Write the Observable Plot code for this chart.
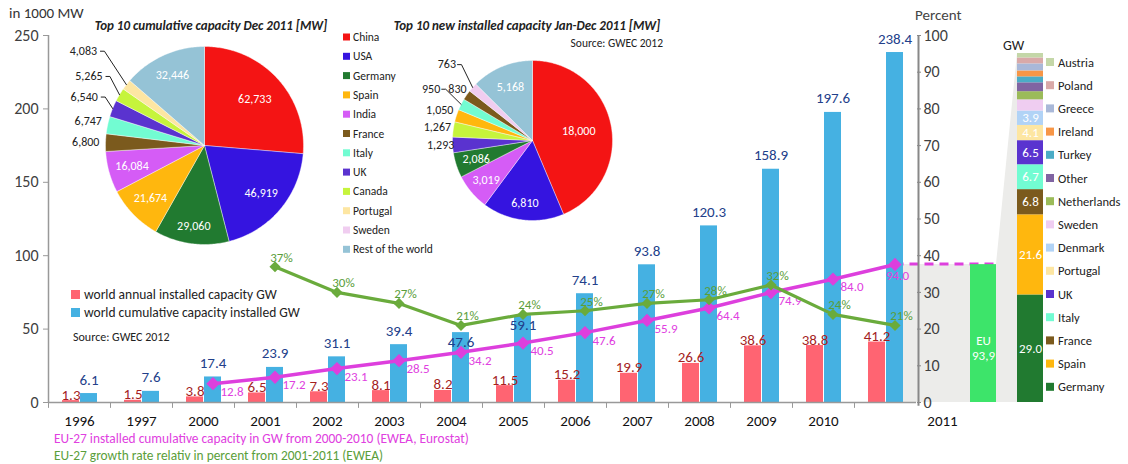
<!DOCTYPE html>
<html><head><meta charset="utf-8">
<script src="https://cdn.jsdelivr.net/npm/d3@7"></script>
<script src="https://cdn.jsdelivr.net/npm/@observablehq/plot@0.6"></script>
<style>
html,body{margin:0;padding:0;background:#fff;}
#chart{position:relative;width:1128px;height:464px;overflow:hidden;}
#chart svg{position:absolute;left:0;top:0;overflow:visible;background:transparent;}
</style></head><body><div id="chart"></div>
<script>
// ---------- DATA ----------
const years = ["1996","1997","2000","2001","2002","2003","2004","2005","2006","2007","2008","2009","2010","2011"];
const annualGW = [1.3,1.5,3.8,6.5,7.3,8.1,8.2,11.5,15.2,19.9,26.6,38.6,38.8,41.2];
const cumulativeGW = [6.1,7.6,17.4,23.9,31.1,39.4,47.6,59.1,74.1,93.8,120.3,158.9,197.6,238.4];
const euYears = ["2000","2001","2002","2003","2004","2005","2006","2007","2008","2009","2010","2011"];
const euCumGW = [12.8,17.2,23.1,28.5,34.2,40.5,47.6,55.9,64.4,74.9,84.0,94.0];
const growthYears = ["2001","2002","2003","2004","2005","2006","2007","2008","2009","2010","2011"];
const growthPct = [37,30,27,21,24,25,27,28,32,24,21];
const euTotalLabel = "EU\n93,9";
const euTotalGW = 93.9;
const euCountries = ["Germany","Spain","France","Italy","UK","Portugal","Denmark","Sweden","Netherlands","Other","Turkey","Ireland","Greece","Poland","Austria"];
const euCountryGW = [29.0,21.6,6.8,6.7,6.5,4.1,3.9,3.0,2.2,2.4,1.6,1.6,1.9,1.6,1.2];
const euCountryColors = ["#217a30","#ffb70e","#7b5a1d","#72fcd2","#5a33cf","#fde6a2","#b1d3f6","#efcdf1","#9bbb59","#8064a2","#4bacc6","#f79646","#a9b8d8","#d9a9a8","#c4d7a8"];
const pieNames = ["China","USA","Germany","Spain","India","France","Italy","UK","Canada","Portugal","Sweden","Rest of the world"];
const pieColors = ["#f41414","#3514e0","#217a30","#ffb70e","#d55cf6","#7b5a1d","#72fcd2","#5a33cf","#c6f43c","#fde6a2","#f0cdf0","#95c3d6"];
const cumCountries = ["China","USA","Germany","Spain","India","France","Italy","UK","Canada","Portugal","Rest of the world"];
const cumMW = [62733,46919,29060,21674,16084,6800,6747,6540,5265,4083,32446];
const newCountries = ["China","USA","India","Germany","UK","Canada","Spain","Italy","France","Sweden","Rest of the world"];
const newMW = [18000,6810,3019,2086,1293,1267,1050,950,830,763,5168];
const seriesNames = ["world annual installed capacity GW","world cumulative capacity installed GW"];
const seriesColors = ["#ff6472","#45b1e2"];

// ---------- LAYOUT ----------
const FONT = "Carlito, Lato, 'Open Sans', sans-serif";
const W = 1128, H = 464;
const root = document.getElementById("chart");
root.style.fontFamily = FONT;
const base = {width: W, height: H, marginLeft: 48, marginRight: 212, marginTop: 35, marginBottom: 62};
const sty = {background: "transparent", fontFamily: FONT, overflow: "visible", color: "#404040"};
const diamond = d3.symbolDiamond2 || "diamond";
const insideLabelYears = ["2004", "2005"]; // labels placed inside the bar top (as in the reference)

const bars = years.map((y, i) => ({year: y, annual: annualGW[i], cum: cumulativeGW[i]}));
const eu = euYears.map((y, i) => ({year: y, v: euCumGW[i]}));
const growth = growthYears.map((y, i) => ({year: y, p: growthPct[i]}));
const last = years[years.length - 1];

const plotA = Plot.plot({
  ...base, style: sty,
  x: {type: "band", domain: years, padding: 0, axis: null, label: null},
  y: {domain: [0, 250], axis: null, label: null},
  marks: [
    Plot.barY(bars, {x: "year", y: "annual", fill: seriesColors[0], insetLeft: 14, insetRight: 31}),
    Plot.barY(bars, {x: "year", y: "cum", fill: seriesColors[1], insetLeft: 32, insetRight: 13}),
    Plot.text(bars, {x: "year", y: "annual", text: d => d.annual.toFixed(1), dx: -8.5, dy: -1, lineAnchor: "bottom", fill: "#a51f1f", fontSize: 15}),
    Plot.text(bars.filter(d => !insideLabelYears.includes(d.year)), {x: "year", y: "cum", text: d => d.cum.toFixed(1), dx: 9.5, dy: -9, lineAnchor: "bottom", fill: "#22408a", fontSize: 15}),
    Plot.text(bars.filter(d => insideLabelYears.includes(d.year)), {x: "year", y: "cum", text: d => d.cum.toFixed(1), dx: 9.5, dy: 4, lineAnchor: "top", fill: "#22408a", fontSize: 15}),
    Plot.ruleY([0], {stroke: "#999", strokeWidth: 1.5}),
    Plot.ruleX(years, {x: d => d, dx: -31, y1: 0, y2: -4, stroke: "#999"}),
    Plot.ruleX([years[0]], {dx: -31, y1: 0, y2: 250, stroke: "#999", strokeWidth: 1.5}),
    Plot.axisY({ticks: [0, 50, 100, 150, 200, 250], tickSize: 5, tickPadding: 5, fontSize: 16, stroke: "#999", label: null}),
    Plot.axisX({tickSize: 0, tickPadding: 13, fontSize: 15, fill: "#111", label: null, tickFormat: d => d === last ? "" : d}),
    Plot.line(eu, {x: "year", y: "v", dx: 9.5, stroke: "#dd3fdd", strokeWidth: 3.5}),
    Plot.dot(eu, {x: "year", y: "v", dx: 9.5, symbol: diamond, r: 6, fill: "#dd3fdd"}),
    Plot.text(eu.slice(0, -1), {x: "year", y: "v", text: d => d.v.toFixed(1), dx: 17, dy: 3, textAnchor: "start", lineAnchor: "top", fill: "#e040e0", fontSize: 13}),
    Plot.text(eu.slice(-1), {x: "year", y: "v", text: d => d.v.toFixed(1), dx: 12, dy: 6, lineAnchor: "top", fill: "#e040e0", fontSize: 13})
  ]
});

const plotB = Plot.plot({
  ...base, style: sty,
  x: {type: "band", domain: years, padding: 0, axis: null, label: null},
  y: {domain: [0, 100], axis: null, label: null},
  marks: [
    Plot.ruleX([last], {dx: 33, y1: -1, y2: 100, stroke: "#888", strokeWidth: 2}),
    Plot.axisY({anchor: "right", ticks: d3.range(0, 101, 10), tickSize: 4, tickPadding: 3, fontSize: 16, stroke: "#888", label: null}),
    Plot.line(growth, {x: "year", y: "p", dx: 9.5, stroke: "#6aab3c", strokeWidth: 3.2}),
    Plot.dot(growth, {x: "year", y: "p", dx: 9.5, symbol: diamond, r: 5, fill: "#6aab3c"}),
    Plot.text(growth, {x: "year", y: "p", text: d => d.p + "%", dx: 16, dy: -5, lineAnchor: "bottom", fill: "#5a9e3a", fontSize: 13}),
    Plot.text([last], {x: d => d, y: 0, dx: 57, dy: 13, lineAnchor: "top", fontSize: 15, fill: "#111"})
  ]
});

const plotC = Plot.plot({
  width: W, height: H, marginTop: 35, marginBottom: 62, marginLeft: 0, marginRight: 0, style: sty,
  x: {type: "band", domain: ["EU"], range: [970, 996], padding: 0, axis: null, label: null},
  y: {domain: [0, 250], axis: null, label: null},
  marks: [
    Plot.barY([{k: "EU", v: euTotalGW}], {x: "k", y: "v", fill: "#3de46a"}),
    Plot.text([{k: "EU", v: euTotalGW}], {x: "k", y: d => d.v * 0.4, text: () => euTotalLabel, fill: "white", fontSize: 13, lineHeight: 1.2})
  ]
});

const stack = euCountries.map((c, i) => ({k: "EU2011", country: c, gw: euCountryGW[i], color: euCountryColors[i]}));
const plotD = Plot.plot({
  width: W, height: H, style: sty,
  x: {type: "band", domain: ["EU2011"], range: [1017, 1043], padding: 0, axis: null, label: null},
  y: {domain: [0, d3.sum(euCountryGW)], range: [402, 53], axis: null, label: null},
  color: {type: "identity"},
  marks: [
    Plot.barY(stack, {x: "k", y: "gw", fill: "color", z: "country"}),
    Plot.text(stack.slice(0, 7), Plot.stackY({x: "k", y: "gw", z: "country", text: d => d.gw.toFixed(1), fill: "white", fontSize: 13}))
  ]
});

function pie(names, values, R, half, kLabel, leaders) {
  const arcs = d3.pie().sort(null).value(d => d)(values);
  const slices = arcs.map((a, i) => ({
    name: names[i], value: values[i], a0: a.startAngle, a1: a.endAngle,
    mid: (a.startAngle + a.endAngle) / 2, color: pieColors[pieNames.indexOf(names[i])], k: kLabel[i]
  }));
  const pts = [];
  slices.forEach((s, i) => {
    const n = Math.max(2, Math.ceil((s.a1 - s.a0) / 0.015));
    pts.push({i, x: 0, y: 0, color: s.color});
    for (let j = 0; j <= n; j++) {
      const t = s.a0 + (s.a1 - s.a0) * j / n;
      pts.push({i, x: R * Math.sin(t), y: -R * Math.cos(t), color: s.color});
    }
    pts.push({i, x: 0, y: 0, color: s.color});
  });
  const labels = slices.map(s => ({text: d3.format(",")(s.value), x: s.k * R * Math.sin(s.mid), y: -s.k * R * Math.cos(s.mid), inside: s.k < 1}));
  const lp = [];
  leaders.forEach(i => {
    const L = labels[i], hw = L.text.length * 3.2 + 1, s = slices[i];
    lp.push({i, x: L.x + hw, y: L.y}, {i, x: L.x + hw + 4, y: L.y}, {i, x: R * Math.sin(s.mid), y: -R * Math.cos(s.mid)});
  });
  return Plot.plot({
    width: 2 * half, height: 2 * half, margin: 0, style: sty,
    x: {domain: [-half, half], axis: null, label: null},
    y: {domain: [-half, half], range: [0, 2 * half], axis: null, label: null},
    color: {type: "identity"},
    marks: [
      Plot.line(pts, {x: "x", y: "y", z: "i", fill: "color", stroke: "white", strokeWidth: 0.4, curve: "linear"}),
      Plot.line(lp, {x: "x", y: "y", z: "i", stroke: "#222", strokeWidth: 1}),
      Plot.text(labels, {x: "x", y: "y", text: "text", fill: d => d.inside ? "white" : "#222", fontSize: 12})
    ]
  });
}
const pie1 = pie(cumCountries, cumMW, 99, 150, [0.69, 0.75, 0.82, 0.76, 0.76, 1.2, 1.2, 1.31, 1.36, 1.55, 0.78], [7, 8, 9]);
const pie2 = pie(newCountries, newMW, 80, 130, [0.59, 0.79, 0.76, 0.74, 1.15, 1.2, 1.22, 1.42, 1.14, 1.43, 0.72], [7, 9]);

// ---------- BACKGROUND (connector) from scales ----------
const xA = plotA.scale("x"), yA = plotA.scale("y"), xC = plotC.scale("x"), xD = plotD.scale("x"), yD = plotD.scale("y");
const gx0 = xA.apply(last) + xA.bandwidth - 13;
const gx1 = xC.apply("EU") + xC.bandwidth;
const gx2 = xD.apply("EU2011");
const gyTop = yA.apply(euCumGW[euCumGW.length - 1]);
const gyBase = yA.apply(0);
const gyStack = yD.apply(d3.sum(euCountryGW));
const bg = d3.create("svg").attr("width", W).attr("height", H);
bg.append("path").attr("fill", "#ececea")
  .attr("d", `M${gx0},${gyBase}L${gx0},${gyTop}L${gx1},${gyTop}L${gx2},${gyStack}L${gx2},${gyBase}Z`);
bg.append("line").attr("x1", xA.apply(last) + xA.bandwidth / 2 + 9.5).attr("x2", gx1)
  .attr("y1", gyTop).attr("y2", gyTop).attr("stroke", "#dd3fdd").attr("stroke-width", 3).attr("stroke-dasharray", "9,6");

root.append(bg.node());
root.append(plotA);
root.append(plotC);
root.append(plotD);
root.append(plotB);
pie1.style.left = (204 - 150) + "px"; pie1.style.top = (145 - 150) + "px";
pie2.style.left = (532 - 130) + "px"; pie2.style.top = (140 - 130) + "px";
root.append(pie1);
root.append(pie2);

// ---------- ANNOTATIONS ----------
const ov = d3.create("svg").attr("width", W).attr("height", H).style("font-family", FONT);
const t = (x, y, s, opts = {}) => ov.append("text").attr("x", x).attr("y", y).text(s)
  .attr("font-size", opts.size || 13).attr("fill", opts.fill || "#222")
  .attr("text-anchor", opts.anchor || "start").attr("font-weight", opts.weight || null).attr("font-style", opts.style || null);
t(9, 18, "in 1000 MW", {size: 15, fill: "#333"});
t(915, 20, "Percent", {size: 15, fill: "#444"});
t(1003, 50, "GW", {size: 14});
t(211, 30, "Top 10 cumulative capacity Dec 2011 [MW]", {size: 13, weight: "bold", style: "italic", anchor: "middle"});
t(527, 30, "Top 10 new installed capacity Jan-Dec 2011 [MW]", {size: 13, weight: "bold", style: "italic", anchor: "middle"});
t(663, 47, "Source: GWEC 2012", {size: 11.5, anchor: "end"});
t(73, 341, "Source: GWEC 2012", {size: 12});
t(54, 443, "EU-27 installed cumulative capacity in GW from 2000-2010 (EWEA, Eurostat)", {size: 13.4, fill: "#e040e0"});
t(54, 460, "EU-27 growth rate relativ in percent from 2001-2011 (EWEA)", {size: 13.4, fill: "#5a9e3a"});
seriesNames.forEach((n, i) => {
  ov.append("rect").attr("x", 71).attr("y", 290 + 18 * i).attr("width", 9).attr("height", 9).attr("fill", seriesColors[i]);
  t(84, 299 + 18 * i, n, {size: 13.5});
});
pieNames.forEach((n, i) => {
  const cy = 37 + 19.3 * i;
  ov.append("rect").attr("x", 343).attr("y", cy - 3.5).attr("width", 7).attr("height", 7).attr("fill", pieColors[i]);
  t(353, cy + 4, n, {size: 11.5});
});
euCountries.slice().reverse().forEach((n, j) => {
  const cy = 62 + 23.2 * j;
  const i = euCountries.indexOf(n);
  ov.append("rect").attr("x", 1046).attr("y", cy - 4).attr("width", 8).attr("height", 8).attr("fill", euCountryColors[i]);
  t(1058, cy + 4.5, n, {size: 12.5});
});
root.append(ov.node());
</script></body></html>
